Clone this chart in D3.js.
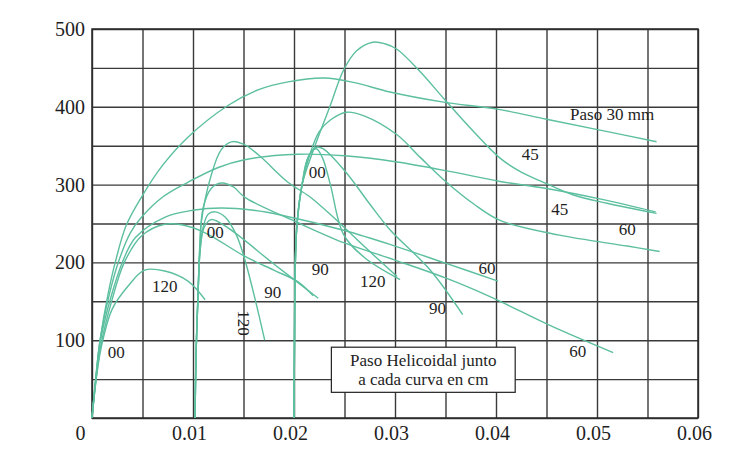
<!DOCTYPE html>
<meta charset="utf-8">
<head>
    <title>Paso helicoidal</title>
    <style>
        body { margin: 0; background: #fff; }
        text { font-family: "Liberation Serif", "Times New Roman", serif; fill: #1e1e1e; }
    </style>
</head>
<body>
<svg width="738" height="458"></svg>
<script src="https://d3js.org/d3.v7.min.js"></script>
<script>

    // tick values and labels
    var xTicks = [0, 0.01, 0.02, 0.03, 0.04, 0.05, 0.06];
    var xTickLabels = ["0", "0.01", "0.02", "0.03", "0.04", "0.05", "0.06"];
    var yTicks = [100, 200, 300, 400, 500];
    var xGrid = d3.range(0, 0.0601, 0.005);
    var yGrid = d3.range(0, 501, 50);

    // curves, [x, y]
    // group starting at 0
    var a30 = [[0,0],[0.0004,55],[0.0008,100],[0.0016,160],[0.0023,200],[0.0034,248],[0.0049,284],[0.007,325],[0.0095,361],[0.0135,402],[0.0165,422],[0.0194,432],[0.023,437],[0.026,431],[0.0295,419],[0.0348,406],[0.0401,397],[0.045,384],[0.0503,370],[0.0559,355]];
    var a45 = [[0,0],[0.0004,55],[0.0008,100],[0.0017,158],[0.0026,200],[0.0038,238],[0.0049,258],[0.007,284],[0.0095,303],[0.0125,322],[0.0151,332],[0.0204,339],[0.025,337],[0.0302,329],[0.0354,317],[0.0404,304],[0.045,295],[0.0505,281],[0.0558,265]];
    var a60 = [[0,0],[0.0004,52],[0.0008,97],[0.0018,152],[0.003,200],[0.0043,232],[0.0072,258],[0.01,267],[0.0128,270],[0.016,267],[0.019,260],[0.025,241],[0.03,221],[0.035,199],[0.0402,176]];
    var a90 = [[0,0],[0.0004,50],[0.0009,95],[0.0019,148],[0.0032,200],[0.0049,234],[0.0072,249],[0.009,248],[0.0112,238],[0.0151,208],[0.018,190],[0.0204,175],[0.0219,157]];
    var a120 = [[0,0],[0.0004,48],[0.0009,90],[0.002,140],[0.0036,170],[0.0052,190],[0.0072,189],[0.0095,176],[0.0112,152]];
    // group starting at 0.01
    var bBig = [[0.0102,0],[0.0103,80],[0.0105,160],[0.0107,230],[0.0108,250],[0.0118,312],[0.0128,345],[0.0138,355],[0.015,352],[0.0165,338],[0.0194,303],[0.0215,285],[0.0239,258],[0.027,220],[0.0302,182]];
    var b60 = [[0.0102,0],[0.0103,80],[0.0105,160],[0.0107,225],[0.011,270],[0.0118,295],[0.0128,302],[0.014,297],[0.0151,284],[0.0204,251],[0.025,225],[0.03,203],[0.035,180],[0.0394,156],[0.0455,118],[0.0516,84]];
    var b90 = [[0.0102,0],[0.0103,80],[0.0105,160],[0.0107,215],[0.0111,245],[0.0118,255],[0.0135,244],[0.018,198],[0.0224,154]];
    var b120 = [[0.0102,0],[0.0103,80],[0.0105,160],[0.0107,215],[0.011,245],[0.0115,262],[0.0122,265],[0.0132,258],[0.0143,235],[0.0151,205],[0.0162,150],[0.0171,100]];
    // group starting at 0.02
    var c45 = [[0.02,0],[0.02005,100],[0.0201,180],[0.0203,250],[0.0208,300],[0.0218,340],[0.0236,402],[0.0249,447],[0.0262,472],[0.0278,483],[0.029,481],[0.0302,474],[0.0325,445],[0.0348,411],[0.0375,372],[0.0404,334],[0.0425,316],[0.0447,303],[0.0476,287],[0.051,276],[0.0559,263]];
    var c60 = [[0.02,0],[0.02005,100],[0.0201,180],[0.0203,250],[0.0208,300],[0.0216,340],[0.0225,368],[0.0236,383],[0.0252,393],[0.027,388],[0.0302,364],[0.0325,335],[0.0351,303],[0.0378,275],[0.0404,254],[0.0463,235],[0.053,221],[0.0562,214]];
    var c90 = [[0.02,0],[0.02005,100],[0.0201,180],[0.0203,250],[0.0208,300],[0.0214,335],[0.0222,348],[0.0229,346],[0.0252,315],[0.0275,275],[0.0295,242],[0.0335,190],[0.0367,133]];
    var c120 = [[0.02,0],[0.02005,100],[0.0201,180],[0.0203,250],[0.0208,300],[0.0214,335],[0.0222,346],[0.0228,335],[0.0236,300],[0.0249,236],[0.027,206],[0.0305,178]];

    var curves = [a30, a45, a60, a90, a120, bBig, b60, b90, b120, c45, c60, c90, c120];

    // curve labels, [text, x, y]
    var curveLabels = [
        ["Paso 30 mm", 0.0515, 383],
        ["45", 0.0434, 332],
        ["45", 0.0463, 261],
        ["60", 0.0530, 235],
        ["60", 0.0391, 185],
        ["60", 0.0481, 78],
        ["90", 0.0226, 184],
        ["90", 0.0179, 154],
        ["90", 0.0342, 134],
        ["120", 0.0072, 162],
        ["120", 0.0278, 168],
        ["00", 0.0024, 77],
        ["00", 0.0122, 231],
        ["00", 0.0223, 308]
    ];
    var rotatedLabel = ["120", 0.0150, 122];
    var noteLines = ["Paso Helicoidal junto", "a cada curva en cm"];

    var svg = d3.select("svg");

    var x = d3.scaleLinear().domain([0, 0.06]).range([92, 698]);
    var y = d3.scaleLinear().domain([0, 500]).range([418, 29]);
    var h = y(0) - y(500);
    var w = x(0.06) - x(0);

    //grid
    svg.append("g")
            .attr("transform", "translate(0," + y(0) + ")")
            .call(d3.axisBottom(x).tickValues(xGrid).tickSize(-h).tickFormat(""));
    svg.append("g")
            .attr("transform", "translate(" + x(0) + ",0)")
            .call(d3.axisLeft(y).tickValues(yGrid).tickSize(-w).tickFormat(""));
    svg.selectAll(".domain").remove();
    svg.selectAll(".tick line")
            .attr("stroke", "#3a3a3a")
            .attr("stroke-width", 1.4);

    svg.append("rect")
            .attr("x", x(0)).attr("y", y(500))
            .attr("width", w).attr("height", h)
            .attr("fill", "none")
            .attr("stroke", "#2a2a2a")
            .attr("stroke-width", 1.5);

    //tick labels
    var xl = svg.append("g")
            .attr("transform", "translate(0," + y(0) + ")")
            .call(d3.axisBottom(x).tickValues(xTicks).tickSize(0).tickPadding(8)
                    .tickFormat(function(d, i) { return xTickLabels[i]; }));
    xl.selectAll("text")
            .attr("dx", function(d) { return d === 0 ? -12 : -4; });
    var yl = svg.append("g")
            .attr("transform", "translate(" + x(0) + ",0)")
            .call(d3.axisLeft(y).tickValues(yTicks).tickSize(0).tickPadding(7));
    svg.selectAll(".tick text")
            .style("font-size", "20px")
            .style("font-family", "'Liberation Serif', serif")
            .attr("fill", "#1e1e1e");
    xl.select(".domain").remove();
    yl.select(".domain").remove();

    //curves
    var line = d3.line()
            .x(function(d) { return x(d[0]); })
            .y(function(d) { return y(d[1]); })
            .curve(d3.curveCatmullRom.alpha(0.5));

    svg.append("g")
            .selectAll("path")
            .data(curves)
            .enter().append("path")
            .attr("d", line)
            .attr("fill", "none")
            .attr("stroke", "#5cbf9f")
            .attr("stroke-width", 1.4);

    //labels
    svg.append("g")
            .selectAll("text")
            .data(curveLabels)
            .enter().append("text")
            .attr("x", function(d) { return x(d[1]); })
            .attr("y", function(d) { return y(d[2]); })
            .attr("text-anchor", "middle")
            .style("font-size", "17px")
            .text(function(d) { return d[0]; });

    svg.append("text")
            .attr("transform", "translate(" + x(rotatedLabel[1]) + "," + y(rotatedLabel[2]) + ") rotate(90)")
            .attr("text-anchor", "middle")
            .attr("dy", "0.35em")
            .style("font-size", "17px")
            .text(rotatedLabel[0]);

    //note box
    svg.append("rect")
            .attr("x", x(0.0237)).attr("y", y(91))
            .attr("width", x(0.0419) - x(0.0237))
            .attr("height", y(33) - y(91))
            .attr("fill", "#fff")
            .attr("stroke", "#222")
            .attr("stroke-width", 1.2);

    svg.append("g")
            .selectAll("text")
            .data(noteLines)
            .enter().append("text")
            .attr("x", x(0.0328))
            .attr("y", function(d, i) { return y(91) + 19 + i * 19; })
            .attr("text-anchor", "middle")
            .style("font-size", "17px")
            .text(function(d) { return d; });

</script>
</body>
